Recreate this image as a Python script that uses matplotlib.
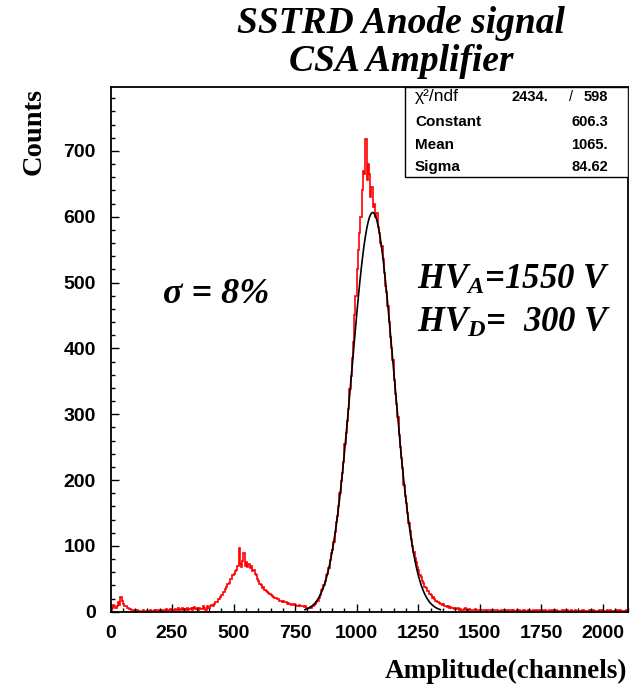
import numpy as np
import matplotlib.pyplot as plt
from matplotlib.patches import Rectangle
from matplotlib.ticker import MultipleLocator

# Anode amplitude spectrum, 5 channels per bin, 0..2100
bin_width = 5
counts = [
    3, 6, 10, 8, 6, 9, 14, 10, 22, 16, 12, 9, 9, 6, 6, 4, 4, 2, 3, 1,
    1, 2, 0, 1, 1, 0, 2, 0, 0, 1, 1, 0, 2, 1, 1, 3, 0, 2, 2, 1,
    1, 2, 3, 1, 2, 4, 1, 3, 4, 2, 2, 3, 4, 2, 3, 5, 2, 4, 6, 3,
    4, 2, 5, 3, 4, 6, 3, 5, 7, 4, 5, 3, 6, 4, 4, 8, 6, 3, 8, 5,
    5, 8, 10, 8, 11, 14, 15, 19, 20, 23, 25, 30, 30, 35, 37, 42, 44, 49, 50, 55,
    58, 62, 64, 70, 96, 72, 68, 77, 89, 70, 75, 68, 72, 66, 69, 62, 63, 57, 55, 50,
    46, 42, 40, 36, 37, 33, 32, 30, 29, 27, 26, 24, 23, 21, 21, 19, 19, 17, 17, 15,
    16, 14, 15, 12, 13, 11, 12, 10, 11, 12, 10, 9, 9, 10, 8, 9, 9, 7, 8, 6,
    6, 5, 7, 6, 8, 10, 11, 14, 17, 21, 26, 33, 34, 40, 47, 55, 58, 66, 78, 89,
    93, 106, 121, 136, 146, 160, 181, 198, 211, 228, 255, 272, 290, 308, 338, 358, 385, 410, 450, 480,
    520, 550, 575, 600, 640, 670, 665, 718, 655, 680, 665, 630, 645, 615, 620, 600, 605, 585, 575, 560,
    555, 535, 515, 495, 485, 465, 440, 418, 400, 382, 352, 330, 315, 296, 268, 250, 233, 218, 192, 176,
    165, 150, 135, 122, 110, 100, 90, 82, 76, 68, 64, 56, 53, 47, 44, 38, 36, 32, 31, 27,
    25, 21, 23, 19, 17, 15, 15, 13, 12, 10, 11, 9, 9, 7, 8, 6, 7, 5, 6, 4,
    5, 4, 5, 3, 4, 3, 3, 4, 5, 3, 2, 4, 3, 2, 2, 3, 4, 2, 3, 2,
    2, 3, 3, 2, 2, 1, 3, 2, 2, 3, 1, 2, 3, 2, 2, 1, 1, 2, 2, 3,
    2, 1, 1, 2, 2, 3, 1, 2, 1, 1, 2, 3, 3, 1, 1, 2, 2, 1, 1, 2,
    2, 1, 1, 2, 1, 1, 2, 3, 1, 1, 2, 1, 1, 2, 1, 1, 2, 1, 1, 2,
    1, 2, 2, 1, 1, 1, 1, 2, 2, 1, 1, 2, 1, 1, 2, 1, 1, 2, 1, 1,
    1, 1, 1, 2, 2, 1, 1, 1, 1, 2, 1, 1, 2, 1, 1, 1, 1, 2, 2, 1,
    1, 1, 1, 2, 1, 1, 2, 1, 1, 1, 1, 2, 1, 1, 2, 1, 1, 1, 1, 2,
]

# gaussian fit results
chi2, ndf = 2434., 598
fit_const, fit_mean, fit_sigma = 606.3, 1065., 84.62
fit_range = (790, 1340)

stat_names = ['Constant', 'Mean', 'Sigma']
stat_values = ['606.3', '1065.', '84.62']

plt.rcParams['font.family'] = ['Liberation Sans', 'DejaVu Sans']
plt.rcParams['mathtext.fontset'] = 'custom'
plt.rcParams['mathtext.it'] = 'Liberation Serif:bold:italic'
plt.rcParams['mathtext.rm'] = 'Liberation Serif:bold:italic'

W, H = 634, 689
fig = plt.figure(figsize=(W / 100, H / 100), dpi=100)


def fp(x, y):
    # pixel position -> figure fraction
    return x / W, 1 - y / H


ax = fig.add_axes([110.5 / W, 1 - 611.7 / H, 517 / W, 524.7 / H])

edges = np.arange(0, bin_width * (len(counts) + 1), bin_width)
ax.stairs(counts, edges, color='red', lw=1.2)

xf = np.linspace(fit_range[0], fit_range[1], 600)
yf = fit_const * np.exp(-0.5 * ((xf - fit_mean) / fit_sigma) ** 2)
ax.plot(xf, yf, color='black', lw=1.2)

ax.set_xlim(0, 2100)
ax.set_ylim(0, 797)
ax.set_xticks(range(0, 2001, 250))
ax.set_yticks(range(0, 701, 100))
ax.xaxis.set_minor_locator(MultipleLocator(50))
ax.yaxis.set_minor_locator(MultipleLocator(20))
ax.tick_params(which='both', direction='in', top=False, right=False,
               labelsize=14, width=1)
ax.tick_params(axis='x', which='major', length=6, pad=9.5)
ax.tick_params(axis='y', which='major', length=6, pad=10.5)
ax.tick_params(which='minor', length=3)
for lab in ax.get_xticklabels() + ax.get_yticklabels():
    lab.set_fontweight('bold')
for sp in ax.spines.values():
    sp.set_linewidth(1.3)

# stats box
ax.add_patch(Rectangle((0.5696, 0.8285), 0.4304, 0.1715, transform=ax.transAxes,
                       facecolor='white', edgecolor='black', lw=1.0, zorder=5))
row_y = [121.7, 145, 166.7]
fig.text(*fp(415, 96.7), '\u03c7\u00b2/ndf', fontsize=12.5, va='center',
         ha='left', zorder=6)
fig.text(*fp(548, 96.7), f'{chi2:.0f}.', fontsize=10.5, fontweight='bold',
         va='center', ha='right', zorder=6)
fig.text(*fp(571, 96.7), '/', fontsize=10.5, va='center', ha='center', zorder=6)
fig.text(*fp(608, 96.7), str(ndf), fontsize=10.5, fontweight='bold',
         va='center', ha='right', zorder=6)
for name, val, y in zip(stat_names, stat_values, row_y):
    fig.text(*fp(415, y), name, fontsize=11, fontweight='bold',
             va='center', ha='left', zorder=6)
    fig.text(*fp(608, y), val, fontsize=10.5, fontweight='bold',
             va='center', ha='right', zorder=6)

serif_bi = dict(family='Liberation Serif', fontweight='bold', fontstyle='italic')

# titles
fig.text(*fp(401, 33), 'SSTRD Anode signal', fontsize=27, ha='center',
         va='baseline', **serif_bi)
fig.text(*fp(401, 71), 'CSA Amplifier', fontsize=27, ha='center',
         va='baseline', **serif_bi)

# axis titles
fig.text(*fp(627, 678), 'Amplitude(channels)', fontsize=19.5, ha='right',
         va='baseline', family='Liberation Serif', fontweight='bold')
fig.text(*fp(34, 131), 'Counts', fontsize=20.5, ha='center', va='center',
         rotation=90, family='Liberation Serif', fontweight='bold')

# annotations
fig.text(*fp(163, 303), '\u03c3 = 8%', fontsize=26, ha='left', va='baseline',
         **serif_bi)
fig.text(*fp(417, 289), r'$HV_A$=1550 V', fontsize=25, ha='left',
         va='baseline', **serif_bi)
fig.text(*fp(417, 332), r'$HV_D$=  300 V', fontsize=25, ha='left',
         va='baseline', **serif_bi)

fig.savefig('out.png', dpi=100)
